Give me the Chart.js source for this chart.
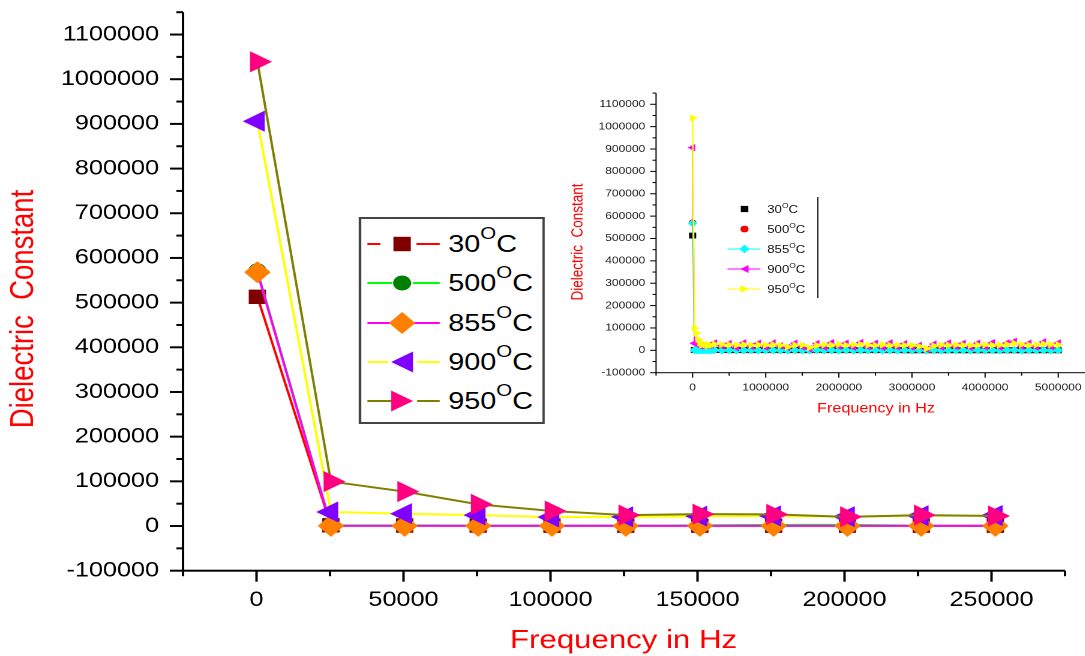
<!DOCTYPE html>
<html lang="en">
<head>
  <meta charset="UTF-8" />
  <title>Dielectric constant vs frequency</title>
  <script src="https://cdn.jsdelivr.net/npm/chart.js"></script>
  <style>
    * { margin: 0; padding: 0; box-sizing: border-box; }
    html, body { width: 1085px; height: 656px; overflow: hidden; background: #fff; }
    body { font-family: "Liberation Sans", Arial, sans-serif; color: #000; }

    /* the reference is widened ~1.2x, so lay out at 904px and stretch */
    #wrap {
      position: relative;
      width: 904px;
      height: 656px;
      transform: scaleX(1.2);
      transform-origin: 0 0;
    }
    #main { position: absolute; left: 0; top: 0; }
    #inset { position: absolute; left: 470px; top: 85px; }

    .legend {
      position: absolute;
      left: 298.6px; top: 217.3px;
      width: 155px; height: 206.7px;
      border: 2px solid #444;
      background: #fff;
    }
    .legend .row { position: absolute; left: 0; height: 30px; width: 100%; }
    .legend svg { position: absolute; left: 5px; top: 0; }
    .legend .txt { position: absolute; left: 73px; top: 0; line-height: 30px; font-size: 24px; white-space: nowrap; }
    .legend .sup { font-size: 17px; position: relative; top: -13px; }

    .ilegend {
      position: absolute;
      left: 600px; top: 197px;
      width: 81.7px; height: 101px;
      border-right: 1.5px solid #000;
    }
    .ilegend .row { position: absolute; left: 0; height: 16px; width: 100%; }
    .ilegend svg { position: absolute; left: 5.6px; top: 0; }
    .ilegend .txt { position: absolute; left: 39.4px; top: 0; line-height: 16px; font-size: 11px; white-space: nowrap; color: #111; }
    .ilegend .sup { font-size: 7px; position: relative; top: -5px; }
  </style>
</head>
<body>
<div id="wrap">
  <canvas id="main" width="904" height="656"></canvas>
  <canvas id="inset" width="450" height="340"></canvas>
  <div class="legend" id="legend"></div>
  <div class="ilegend" id="ilegend"></div>
</div>

<script>
  // ---- values ----
  const tempLabels = ['30', '500', '855', '900', '950'];

  // main plot: first 11 points of the sweep (Hz)
  const freqHz = [300, 25300, 50400, 75400, 100500, 125600, 150800, 175900, 201000, 226100, 251300];
  const eps30  = [513000, 1500, 1200, 1000, 900, 900, 800, 800, 800, 700, 700];
  const eps500 = [571000, 1800, 1500, 1200, 1000, 900, 1500, 2500, 2500, 800, 700];
  const eps855 = [568000, 300, 200, 200, 200, 200, 200, 200, 200, 200, 200];
  const eps900 = [906000, 31500, 27500, 24500, 20000, 20500, 22000, 22500, 21000, 23000, 23500];
  const eps950 = [1039000, 99500, 77000, 48500, 33500, 24500, 26500, 26000, 20500, 24500, 22500];

  // inset: rest of the sweep up to 5 MHz
  const tailHz = [300000, 400000, 500000, 600000, 700000, 800000, 900000, 1000000, 1100000, 1200000,
                  1300000, 1400000, 1500000, 1600000, 1700000, 1800000, 1900000, 2000000, 2100000, 2200000,
                  2300000, 2400000, 2500000, 2600000, 2700000, 2800000, 2900000, 3000000, 3100000, 3200000,
                  3300000, 3400000, 3500000, 3600000, 3700000, 3800000, 3900000, 4000000, 4100000, 4200000,
                  4300000, 4400000, 4500000, 4600000, 4700000, 4800000, 4900000, 5000000];
  const tail30  = [1200, 1100, 1000, 1000, 900, 900, 900, 800, 800, 800,
                   800, 800, 700, 700, 700, 700, 700, 700, 600, 600,
                   600, 600, 600, 600, 600, 600, 500, 500, 500, 500,
                   500, 500, 500, 500, 500, 500, 500, 400, 400, 400,
                   400, 400, 400, 400, 400, 400, 400, 400];
  const tail500 = [900, 800, 800, 700, 700, 700, 600, 600, 600, 600,
                   500, 500, 500, 500, 500, 500, 400, 400, 400, 400,
                   400, 400, 400, 400, 300, 300, 300, 300, 300, 300,
                   300, 300, 300, 300, 300, 300, 200, 200, 200, 200,
                   200, 200, 200, 200, 200, 200, 200, 200];
  const tail855 = [1000, -500, 500, -1000, 0, 800, -800, 300, -300, 600,
                   -600, 200, -200, -1200, 900, -400, 400, -900, 700, -700,
                   100, -100, 1100, -1100, 500, -500, 300, -300, 800, -1500,
                   1200, -600, 600, -200, 200, -800, 900, -400, 400, -700,
                   700, 1000, -1000, 300, -300, 500, -500, 200];
  const tail900 = [33000, 20000, 30000, 12000, 34000, 18000, 31000, 14000, 33000, 20000,
                   12000, 32000, 16000, 6000, 30000, 15000, 34000, 18000, 32000, 14000,
                   35000, 17000, 31000, 13000, 33000, 16000, 30000, 14000, 22000, 5000,
                   28000, 15000, 33000, 17000, 31000, 13000, 32000, 16000, 34000, 15000,
                   33000, 40000, 18000, 32000, 15000, 38000, 17000, 33000];
  const tail950 = [28000, 26000, 25000, 24000, 26000, 23000, 25000, 24000, 26000, 22000,
                   15000, 24000, 23000, 12000, 22000, 25000, 24000, 26000, 23000, 25000,
                   27000, 24000, 23000, 25000, 22000, 24000, 23000, 22000, 18000, 8000,
                   20000, 24000, 23000, 25000, 24000, 22000, 24000, 25000, 23000, 24000,
                   26000, 31000, 26000, 24000, 25000, 29000, 26000, 25000];

  // axis ranges / tick steps
  const mainX = { min: -25000, max: 275000, step: 25000, label: 50000 };
  const mainY = { min: -100000, max: 1150000, step: 50000, label: 100000 };
  const insetXR = { min: -500000, max: 5500000, step: 500000, label: 1000000 };
  const insetYR = { min: -100000, max: 1150000, step: 50000, label: 100000 };

  const mainSeries = [eps30, eps500, eps855, eps900, eps950];
  const tailSeries = [tail30, tail500, tail855, tail900, tail950];

  // ---- looks ----
  const FONT = '"Liberation Sans", Arial, sans-serif';
  const mainStyle = [
    { line: '#ff0000', mark: '#800000', shape: 'rect',     rot: 0,   r: 10.2, gap: [11, 41] },
    { line: '#00ff00', mark: '#008000', shape: 'circle',   rot: 0,   r: 7.6,  gap: [20.8, 38.3] },
    { line: '#ff00ff', mark: '#ff8000', shape: 'rectRot',  rot: 0,   r: 11,   gap: null },
    { line: '#ffff00', mark: '#8000ff', shape: 'triangle', rot: -90, r: 12.2, gap: [17.2, 41.6] },
    { line: '#808000', mark: '#ff0080', shape: 'triangle', rot: 90,  r: 12.2, gap: [23.6, 41.6] }
  ];
  const insetStyle = [
    { line: null,      mark: '#000000', shape: 'rect',     rot: 0,   r: 4.2 },
    { line: null,      mark: '#ff0000', shape: 'circle',   rot: 0,   r: 3.2 },
    { line: '#00ffff', mark: '#00ffff', shape: 'rectRot',  rot: 0,   r: 4 },
    { line: '#ff00ff', mark: '#ff00ff', shape: 'triangle', rot: -90, r: 4.3 },
    { line: '#ffff00', mark: '#ffff00', shape: 'triangle', rot: 90,  r: 4.3 }
  ];

  function pts(xs, ys) {
    return xs.map((x, i) => ({ x, y: ys[i] }));
  }

  // Origin-style axes: left + bottom only, major/minor ticks outward, red titles
  function originAxes(cfg) {
    return {
      id: 'originAxes',
      afterDraw(chart) {
        const { ctx, chartArea: a, scales: { x, y } } = chart;
        const w = cfg.width;
        ctx.save();
        ctx.fillStyle = '#000';
        // axis lines
        ctx.fillRect(a.left - w / 2, a.top, w, a.bottom - a.top + w / 2);
        ctx.fillRect(a.left - w / 2, a.bottom - w / 2, a.right - a.left + w / 2, w);
        // ticks
        x.ticks.forEach(t => {
          const px = x.getPixelForValue(t.value);
          const len = t.value % cfg.xMajor === 0 ? cfg.major : cfg.minor;
          ctx.fillRect(px - w / 2, a.bottom, w, len);
        });
        y.ticks.forEach(t => {
          const py = y.getPixelForValue(t.value);
          const len = t.value % cfg.yMajor === 0 ? cfg.major : cfg.minor;
          ctx.fillRect(a.left - len, py - w / 2, len, w);
        });

        ctx.fillStyle = '#ff0000';
        ctx.textAlign = 'center';
        ctx.textBaseline = 'middle';
        ctx.font = cfg.xTitleFont;
        ctx.fillText(cfg.xTitle, cfg.xTitleAt[0], cfg.xTitleAt[1]);
        ctx.translate(cfg.yTitleAt[0], cfg.yTitleAt[1]);
        ctx.rotate(-Math.PI / 2);
        ctx.font = cfg.yTitleFont;
        ctx.fillText(cfg.yTitle, 0, 0);
        ctx.restore();
      }
    };
  }

  function linearAxis(range, fontSize, color, pad, fit) {
    return {
      type: 'linear',
      min: range.min,
      max: range.max,
      grid: { display: false, drawTicks: false },
      border: { display: false },
      ticks: {
        stepSize: range.step,
        autoSkip: false,
        maxRotation: 0,
        padding: pad,
        color: color,
        font: { family: FONT, size: fontSize },
        callback: v => (v % range.label === 0 ? String(v) : '')
      },
      afterFit: fit
    };
  }

  // ---- main chart ----
  const mainSets = tempLabels.map((t, i) => {
    const st = mainStyle[i];
    return {
      label: t + '°C',
      data: pts(freqHz, mainSeries[i]),
      showLine: true,
      borderColor: st.line,
      borderWidth: 2,
      pointStyle: st.shape,
      pointRotation: st.rot,
      pointRadius: st.r,
      pointBackgroundColor: st.mark,
      pointBorderColor: st.mark,
      pointBorderWidth: 0,
      order: tempLabels.length - i
    };
  });

  new Chart(document.getElementById('main'), {
    type: 'scatter',
    data: { datasets: mainSets },
    options: {
      responsive: false,
      animation: false,
      devicePixelRatio: 2,
      events: [],
      layout: { padding: { left: 0, top: 11.7, right: 16.5, bottom: 0 } },
      plugins: { legend: { display: false }, tooltip: { enabled: false } },
      scales: {
        x: linearAxis(mainX, 21, '#000', 16.7, s => { s.height = 85.3; s.paddingLeft = 0; s.paddingRight = 0; }),
        y: linearAxis(mainY, 21, '#000', 20, s => { s.width = 152.5; s.paddingTop = 0; s.paddingBottom = 0; })
      }
    },
    plugins: [originAxes({
      width: 2, major: 11, minor: 5.5,
      xMajor: mainX.label, yMajor: mainY.label,
      xTitle: 'Frequency in Hz', xTitleFont: '26px ' + FONT, xTitleAt: [519.6, 641],
      yTitle: 'Dielectric  Constant', yTitleFont: '27.5px ' + FONT, yTitleAt: [20, 309]
    })]
  });

  // ---- inset chart ----
  const insetX = freqHz.concat(tailHz);
  const insetSets = tempLabels.map((t, i) => {
    const st = insetStyle[i];
    return {
      label: t + '°C',
      data: pts(insetX, mainSeries[i].concat(tailSeries[i])),
      showLine: !!st.line,
      borderColor: st.line || st.mark,
      borderWidth: 1.2,
      pointStyle: st.shape,
      pointRotation: st.rot,
      pointRadius: st.r,
      pointBackgroundColor: st.mark,
      pointBorderColor: st.mark,
      pointBorderWidth: 0,
      order: tempLabels.length - i
    };
  });

  new Chart(document.getElementById('inset'), {
    type: 'scatter',
    data: { datasets: insetSets },
    options: {
      responsive: false,
      animation: false,
      devicePixelRatio: 2,
      events: [],
      layout: { padding: { left: 0, top: 8.1, right: 7.7, bottom: 0 } },
      plugins: { legend: { display: false }, tooltip: { enabled: false } },
      scales: {
        x: linearAxis(insetXR, 10, '#222', 9, s => { s.height = 52.3; s.paddingLeft = 0; s.paddingRight = 0; }),
        y: linearAxis(insetYR, 10, '#222', 9, s => { s.width = 76.7; s.paddingTop = 0; s.paddingBottom = 0; })
      }
    },
    plugins: [originAxes({
      width: 1, major: 5, minor: 3,
      xMajor: insetXR.label, yMajor: insetYR.label,
      xTitle: 'Frequency in Hz', xTitleFont: '13.5px ' + FONT, xTitleAt: [260, 323.7],
      yTitle: 'Dielectric  Constant', yTitleFont: '13.5px ' + FONT, yTitleAt: [11.7, 157]
    })]
  });

  // ---- legends (html, stretched with the rest) ----
  function markerSvg(st, cx, cy, r) {
    const c = st.mark;
    if (st.shape === 'rect') {
      const h = r * Math.SQRT1_2;
      return `<rect x="${cx - h}" y="${cy - h}" width="${2 * h}" height="${2 * h}" fill="${c}"/>`;
    }
    if (st.shape === 'circle') return `<circle cx="${cx}" cy="${cy}" r="${r}" fill="${c}"/>`;
    if (st.shape === 'rectRot') {
      return `<polygon points="${cx},${cy - r} ${cx + r},${cy} ${cx},${cy + r} ${cx - r},${cy}" fill="${c}"/>`;
    }
    const d = st.rot > 0 ? 1 : -1, w = 0.75 * r, h = 0.866 * r;
    return `<polygon points="${cx + d * w},${cy} ${cx - d * w},${cy - h} ${cx - d * w},${cy + h}" fill="${c}"/>`;
  }

  const legend = document.getElementById('legend');
  tempLabels.forEach((t, i) => {
    const st = mainStyle[i];
    const cy = 15, len = 60.5;
    let lines;
    if (st.gap) {
      lines = `<line x1="0" y1="${cy}" x2="${st.gap[0]}" y2="${cy}" stroke="${st.line}" stroke-width="2"/>` +
              `<line x1="${st.gap[1]}" y1="${cy}" x2="${len}" y2="${cy}" stroke="${st.line}" stroke-width="2"/>`;
    } else {
      lines = `<line x1="0" y1="${cy}" x2="${len}" y2="${cy}" stroke="${st.line}" stroke-width="2"/>`;
    }
    const row = document.createElement('div');
    row.className = 'row';
    row.style.top = (25 + i * 39.2 - 15) + 'px';
    row.innerHTML =
      `<svg width="62" height="30">${lines}${markerSvg(st, 29.1, cy, st.r)}</svg>` +
      `<div class="txt">${t}<span class="sup">O</span>C</div>`;
    legend.appendChild(row);
  });

  const ilegend = document.getElementById('ilegend');
  tempLabels.forEach((t, i) => {
    const st = insetStyle[i];
    const cy = 8;
    const lines = st.line
      ? `<line x1="0" y1="${cy}" x2="27.7" y2="${cy}" stroke="${st.line}" stroke-width="1"/>`
      : '';
    const row = document.createElement('div');
    row.className = 'row';
    row.style.top = (12.3 + i * 19.9 - 8) + 'px';
    row.innerHTML =
      `<svg width="30" height="16">${lines}${markerSvg(st, 14.4, cy, st.r * 1.05)}</svg>` +
      `<div class="txt">${t}<span class="sup">O</span>C</div>`;
    ilegend.appendChild(row);
  });
</script>
</body>
</html>
